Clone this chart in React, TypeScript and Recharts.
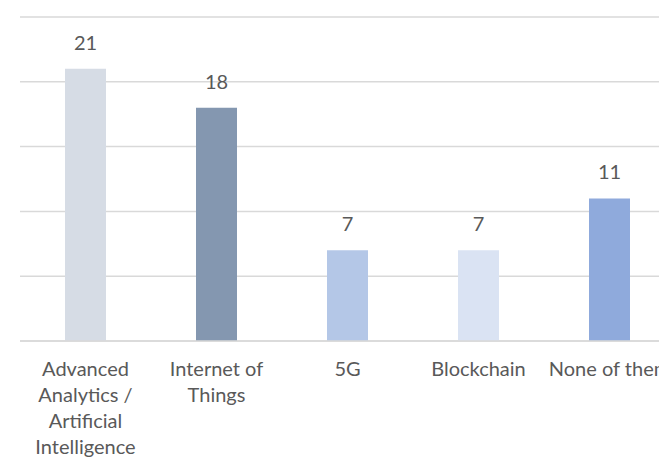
import { BarChart, Bar, XAxis, YAxis, CartesianGrid, Cell, LabelList } from "recharts"

const categories = [
  "Advanced\nAnalytics /\nArtificial\nIntelligence",
  "Internet of\nThings",
  "5G",
  "Blockchain",
  "None of them",
]
const values = [21, 18, 7, 7, 11]
const colors = ["#D6DCE5", "#8497B0", "#B4C7E7", "#DAE3F3", "#8FAADC"]
const yTicks = [0, 5, 10, 15, 20, 25]

const data = categories.map((name, i) => ({ name, value: values[i] }))

const FONT = "Lato, 'Open Sans', sans-serif"

function CategoryTick(props: any) {
  const { x, y, payload } = props
  const lines = String(payload.value).split("\n")
  return (
    <text x={x} y={y} textAnchor="middle" fill="#595959" fontSize={20} fontFamily={FONT}>
      {lines.map((line, i) => (
        <tspan key={i} x={x} dy={i === 0 ? 33 : 26}>
          {line}
        </tspan>
      ))}
    </text>
  )
}

export default function App() {
  // fixed so the chart can run past the window edge without scrollbars
  return (
    <div style={{ position: "fixed", top: 0, left: 0, width: 659, height: 459, overflow: "hidden", background: "#fff" }}>
      <BarChart width={690} height={459} data={data} margin={{ top: 17, right: 15, bottom: 0, left: 20 }}>
        <CartesianGrid vertical={false} stroke="#D9D9D9" strokeWidth={1.5} />
        <YAxis hide domain={[0, 25]} ticks={yTicks} />
        <XAxis
          dataKey="name"
          height={118}
          interval={0}
          axisLine={{ stroke: "#D9D9D9", strokeWidth: 1.5 }}
          tickLine={false}
          tickSize={0}
          tick={<CategoryTick />}
        />
        <Bar dataKey="value" barSize={41} isAnimationActive={false}>
          {data.map((d, i) => (
            <Cell key={d.name} fill={colors[i]} />
          ))}
          <LabelList dataKey="value" position="top" offset={19} fill="#595959" fontSize={20} fontFamily={FONT} />
        </Bar>
      </BarChart>
    </div>
  )
}
